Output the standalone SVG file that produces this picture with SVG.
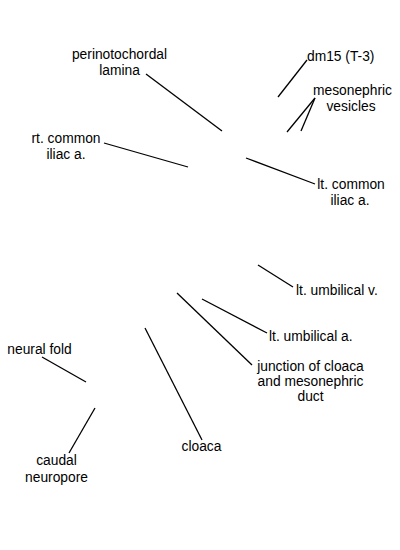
<svg xmlns="http://www.w3.org/2000/svg" width="400" height="550" viewBox="0 0 400 550">
<style>
text{font-family:"Liberation Sans",Arial,sans-serif;font-size:13.8px;fill:#000}
.c{text-anchor:middle}
.s{text-anchor:start}
line{stroke:#000;stroke-width:1.3;fill:none}
</style>
<rect width="400" height="550" fill="#fff"/>
<g id="connectors">
<line x1="146" y1="74" x2="222" y2="131"/>
<line x1="104" y1="143" x2="188" y2="167"/>
<line x1="307" y1="60" x2="278" y2="97"/>
<line x1="315" y1="98" x2="287" y2="132"/>
<line x1="315" y1="98" x2="301" y2="131"/>
<line x1="246" y1="158" x2="315" y2="184"/>
<line x1="258" y1="265" x2="293" y2="287"/>
<line x1="202" y1="299" x2="267" y2="333"/>
<line x1="177" y1="293" x2="252" y2="365"/>
<line x1="145" y1="328" x2="202" y2="440"/>
<line x1="42" y1="357" x2="86" y2="382"/>
<line x1="95" y1="408" x2="69" y2="453"/>
</g>
<g id="perinotochordal-lamina"><text class="c" x="119.5" y="59">perinotochordal</text><text class="c" x="119.5" y="75">lamina</text></g>
<g id="rt-common-iliac"><text class="c" x="66" y="142.5">rt. common</text><text class="c" x="66" y="158.5">iliac a.</text></g>
<g id="dm15"><text class="s" x="307" y="60.5">dm15 (T-3)</text></g>
<g id="mesonephric-vesicles"><text class="c" x="352.5" y="95">mesonephric</text><text class="c" x="351" y="111">vesicles</text></g>
<g id="lt-common-iliac"><text class="c" x="351" y="188.5">lt. common</text><text class="c" x="350" y="204.5">iliac a.</text></g>
<g id="lt-umbilical-v"><text class="s" x="296" y="295">lt. umbilical v.</text></g>
<g id="lt-umbilical-a"><text class="s" x="269" y="340.5">lt. umbilical a.</text></g>
<g id="junction"><text class="c" x="310.5" y="370.5">junction of cloaca</text><text class="c" x="310.5" y="385.5">and mesonephric</text><text class="c" x="310.5" y="400.5">duct</text></g>
<g id="neural-fold"><text class="c" x="39.5" y="353.5">neural fold</text></g>
<g id="caudal-neuropore"><text class="c" x="56.5" y="465">caudal</text><text class="c" x="56.5" y="481.5">neuropore</text></g>
<g id="cloaca"><text class="c" x="201.5" y="450.5">cloaca</text></g>
</svg>
